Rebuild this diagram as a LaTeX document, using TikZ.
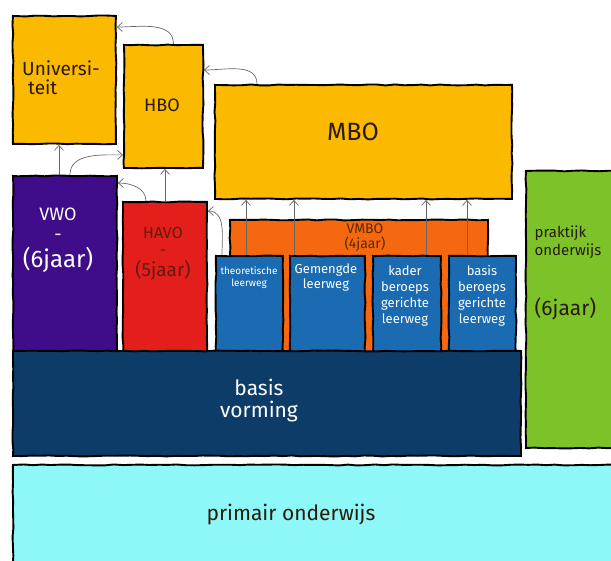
\documentclass[tikz,border=0pt]{standalone}
\usepackage{fontspec}
\setmainfont{Fira Sans}
\usetikzlibrary{calc, positioning, arrows.meta, decorations.pathmorphing}
\definecolor{geel}{HTML}{FBBA00}
\definecolor{paars}{HTML}{3F0C8A}
\definecolor{rood}{HTML}{E41E1B}
\definecolor{oranje}{HTML}{F5680F}
\definecolor{blauw}{HTML}{1B6BB3}
\definecolor{donkerblauw}{HTML}{0E3C69}
\definecolor{groen}{HTML}{7CC329}
\definecolor{lichtblauw}{HTML}{8EF7F7}
\definecolor{inkt}{HTML}{2A1A08}
\tikzset{
  blok/.style={draw=black, line width=1.9pt, anchor=north west, inner sep=0pt,
    decorate, decoration={random steps, segment length=9pt, amplitude=.5pt}},
  pijl/.style={draw=black!60, line width=.7pt, -{Straight Barb[length=5pt, width=9pt]}},
  tekst/.style={align=center, inner sep=1pt, font=\fontsize{#1}{#1}\selectfont},
  tekst/.default=11
}

\begin{document}
\begin{tikzpicture}[x=1pt, y=-1pt]
  \pgfmathsetseed{7}
  \useasboundingbox (0,0) rectangle (611,561);
  \clip (0,0) rectangle (611,561);

  \node[blok, fill=geel, minimum width=103, minimum height=128] (uni) at (12,15) {};
  \node[blok, fill=geel, minimum width=79, minimum height=123] (hbo) at (123,44) {};
  \node[blok, fill=geel, minimum width=297, minimum height=114] (mbo) at (214,84) {};
  \node[blok, fill=paars, minimum width=104, minimum height=180] (vwo) at (12,175) {};
  \node[blok, fill=rood, minimum width=84, minimum height=154] (havo) at (122,201) {};
  \node[blok, fill=oranje, minimum width=258, minimum height=136] (vmbo) at (229,219) {};
  \node[blok, fill=blauw, minimum width=67, minimum height=100] (theo) at (215,255) {};
  \node[blok, fill=blauw, minimum width=75, minimum height=100] (gem) at (289,255) {};
  \node[blok, fill=blauw, minimum width=68, minimum height=100] (kader) at (372,255) {};
  \node[blok, fill=blauw, minimum width=67, minimum height=100] (basisb) at (448,255) {};
  \node[blok, fill=donkerblauw, minimum width=508, minimum height=105] (basis) at (12,350) {};
  \node[blok, fill=groen, minimum width=92, minimum height=277] (prak) at (525,170) {};
  \node[blok, fill=lichtblauw, minimum width=605, minimum height=100] (prim) at (12,464) {};

  \node[tekst=19, text=inkt, align=left] (tuni) at (61,78) {Universi-\\[0pt]\hspace*{6pt}teit};
  \node[tekst=18, text=inkt] (thbo) at (162,105) {HBO};
  \node[tekst=25, text=inkt] (tmbo) at (353,132) {MBO};
  \node[tekst=18, text=white] (tvwo) at (58,240) {VWO\\[2pt]-\\[6pt]\fontsize{24}{24}\selectfont(6jaar)};
  \node[tekst=16, text=inkt!70!rood] (thavo) at (163,254) {HAVO\\[1pt]-\\[4pt]\fontsize{19}{19}\selectfont(5jaar)};
  \node[tekst=14, text=inkt!80!oranje] (tvmbo) at (365,238) {VMBO\\[1pt](4jaar)};
  \node[tekst=10, text=white] (ttheo) at (249,278) {theoretische\\[2pt]leerweg};
  \node[tekst=13, text=white] (tgem) at (326,278) {Gemengde\\[2pt]leerweg};
  \node[tekst=13, text=white] (tkader) at (405,296) {kader\\[3pt]beroeps\\[3pt]gerichte\\[3pt]leerweg};
  \node[tekst=13, text=white] (tbasisb) at (482,296) {basis\\[3pt]beroeps\\[3pt]gerichte\\[3pt]leerweg};
  \node[tekst=21, text=white] (tbasis) at (259,401) {basis\\[1pt]vorming};
  \node[tekst=15, text=inkt, align=left] (tprak) at (568,273) {praktijk\\[3pt]onderwijs\\[38pt]\fontsize{21}{21}\selectfont(6jaar)};
  \node[tekst=21, text=inkt] (tprim) at (291,515) {primair onderwijs};

  \coordinate (v1) at ($(vwo.north)+(-6,0)$);
  \coordinate (v2) at ($(vwo.north)+(5,0)$);
  \coordinate (h1) at ($(havo.north)+(-19,0)$);
  \coordinate (b1) at ($(hbo.north)+(10,0)$);
  \coordinate (m1) at ($(mbo.north west)+(43,0)$);
  \coordinate (t0) at ($(theo.north west)+(7,0)$);
  \coordinate (t1) at ($(theo.north west)+(31,0)$);
  \coordinate (t2) at ($(gem.north west)+(5,0)$);
  \coordinate (t3) at ($(kader.north west)+(54,0)$);
  \coordinate (t4) at ($(basisb.north west)+(19,0)$);

  \draw[pijl] (v1) -- (v1 |- uni.south);
  \draw[pijl] (v2) to[out=90, in=180] ([yshift=14pt]hbo.south west);
  \draw[pijl] (h1) to[out=90, in=0] ([yshift=-8pt]vwo.north east);
  \draw[pijl] (havo.north) -- (havo.north |- hbo.south);
  \draw[pijl] (b1) to[out=90, in=0] ([yshift=-12pt]uni.north east);
  \draw[pijl] (m1) to[out=90, in=0] ([yshift=-26pt]hbo.north east);
  \draw[pijl] (t0) to[out=90, in=0] ([yshift=-10pt]havo.north east);
  \foreach \t in {t1, t2, t3, t4}
    \draw[pijl] (\t) -- (\t |- mbo.south);
\end{tikzpicture}
\end{document}
